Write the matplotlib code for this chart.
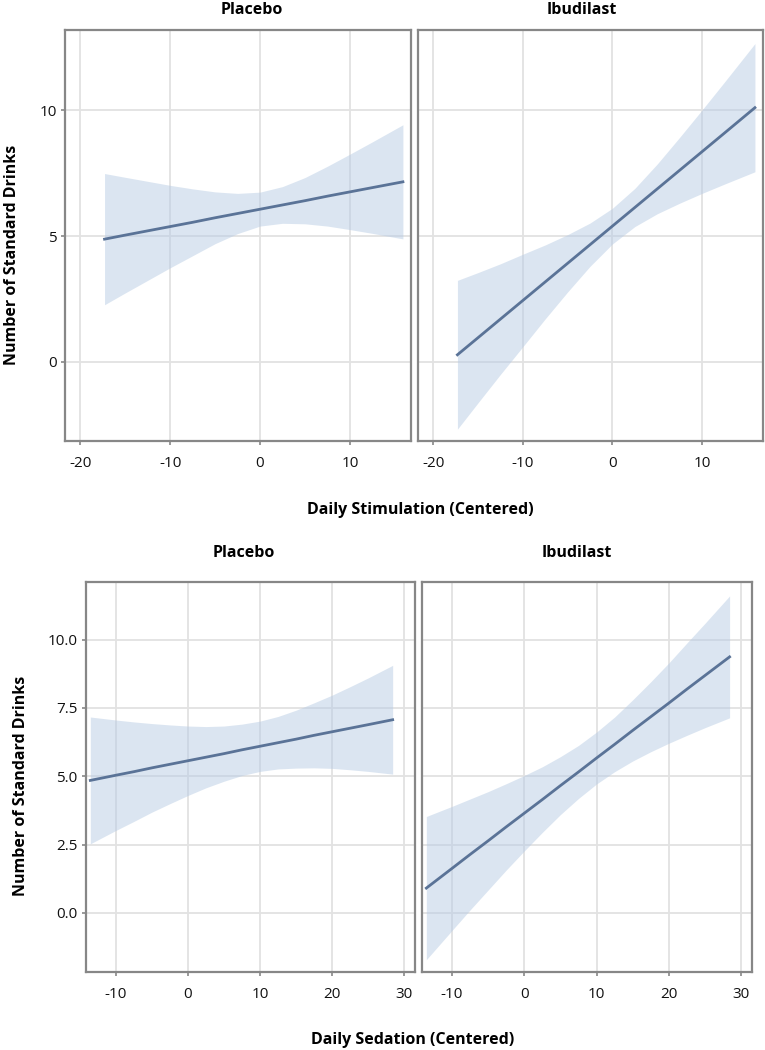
import numpy as np
import matplotlib.pyplot as plt

plt.rcParams['font.family'] = ['Open Sans', 'DejaVu Sans']

groups = ["Placebo", "Ibudilast"]

# stimulation panels (top)
stim_x = [-17.3, -15, -12.5, -10, -7.5, -5, -2.5, 0, 2.5, 5, 7.5, 10, 12.5, 15.9]
stim_fit = {
    "Placebo": [4.88, 5.04, 5.21, 5.38, 5.55, 5.73, 5.90, 6.07, 6.24, 6.41, 6.59, 6.76, 6.93, 7.16],
    "Ibudilast": [0.28, 0.96, 1.70, 2.44, 3.18, 3.92, 4.66, 5.40, 6.14, 6.88, 7.62, 8.36, 9.10, 10.11],
}
stim_hi = {
    "Placebo": [7.49, 7.34, 7.18, 7.02, 6.88, 6.76, 6.70, 6.75, 6.97, 7.33, 7.78, 8.26, 8.75, 9.43],
    "Ibudilast": [3.24, 3.55, 3.90, 4.28, 4.65, 5.06, 5.52, 6.11, 6.90, 7.87, 8.93, 10.02, 11.13, 12.66],
}
stim_lo = {
    "Placebo": [2.27, 2.74, 3.24, 3.74, 4.22, 4.70, 5.10, 5.40, 5.51, 5.49, 5.40, 5.26, 5.11, 4.89],
    "Ibudilast": [-2.68, -1.63, -0.50, 0.60, 1.71, 2.78, 3.80, 4.69, 5.38, 5.89, 6.31, 6.70, 7.07, 7.56],
}

# sedation panels (bottom)
sed_x = [-13.55, -10, -7.5, -5, -2.5, 0, 2.5, 5, 7.5, 10, 12.5, 15, 17.5, 20, 22.5, 25, 28.4]
sed_fit = {
    "Placebo": [4.85, 5.04, 5.17, 5.31, 5.44, 5.57, 5.70, 5.83, 5.97, 6.10, 6.23, 6.36,
                6.50, 6.63, 6.76, 6.89, 7.07],
    "Ibudilast": [0.91, 1.63, 2.14, 2.64, 3.15, 3.65, 4.15, 4.66, 5.16, 5.67, 6.17, 6.68,
                  7.18, 7.68, 8.19, 8.69, 9.37],
}
sed_hi = {
    "Placebo": [7.17, 7.06, 6.99, 6.93, 6.88, 6.84, 6.82, 6.84, 6.91, 7.02, 7.19, 7.42,
                7.69, 7.97, 8.28, 8.60, 9.06],
    "Ibudilast": [3.53, 3.90, 4.17, 4.44, 4.73, 5.03, 5.35, 5.72, 6.13, 6.62, 7.17, 7.80,
                  8.46, 9.15, 9.88, 10.60, 11.60],
}
sed_lo = {
    "Placebo": [2.53, 3.02, 3.35, 3.69, 4.00, 4.30, 4.58, 4.82, 5.03, 5.18, 5.27, 5.30,
                5.31, 5.29, 5.24, 5.18, 5.08],
    "Ibudilast": [-1.71, -0.64, 0.11, 0.84, 1.57, 2.27, 2.95, 3.60, 4.19, 4.72, 5.17, 5.56,
                  5.90, 6.21, 6.50, 6.78, 7.14],
}

stim_xticks = [-20, -10, 0, 10]
stim_yticks = [0, 5, 10]
stim_yticklabels = ["0", "5", "10"]
sed_xticks = [-10, 0, 10, 20, 30]
sed_yticks = [0, 2.5, 5, 7.5, 10]
sed_yticklabels = ["0.0", "2.5", "5.0", "7.5", "10.0"]

line_col = '#5a7397'
band_col = '#b8cce4'
frame_col = '#878787'
grid_col = '#e2e2e2'

W, H = 765, 1050
fig = plt.figure(figsize=(W / 100, H / 100), dpi=100)


def px_axes(l, t, r, b):
    return fig.add_axes([l / W, 1 - b / H, (r - l) / W, (b - t) / H])


def draw(ax, x, fit, hi, lo, xlim, ylim, xticks, yticks, ylabels, show_y):
    ax.fill_between(x, lo, hi, color=band_col, alpha=0.5, lw=0, zorder=2)
    ax.plot(x, fit, color=line_col, lw=2, zorder=3)
    ax.set_xlim(xlim)
    ax.set_ylim(ylim)
    ax.set_xticks(xticks)
    ax.set_xticklabels([str(v) for v in xticks])
    ax.set_yticks(yticks)
    ax.grid(True, color=grid_col, lw=1.3)
    ax.set_axisbelow(True)
    for s in ax.spines.values():
        s.set_color(frame_col)
        s.set_linewidth(1.6)
    ax.tick_params(axis='x', length=3, width=1.2, color=frame_col, labelsize=11,
                   pad=8, labelcolor='#111111')
    if show_y:
        ax.set_yticklabels(ylabels)
        ax.tick_params(axis='y', length=3, width=1.2, color=frame_col, labelsize=11,
                       pad=3, labelcolor='#111111')
    else:
        ax.tick_params(axis='y', length=0, labelleft=False)


top_boxes = [(65, 30, 411, 441), (418, 30, 763, 441)]
for i, g in enumerate(groups):
    ax = px_axes(*top_boxes[i])
    draw(ax, stim_x, stim_fit[g], stim_hi[g], stim_lo[g], (-21.7, 16.8), (-3.15, 13.2),
         stim_xticks, stim_yticks, stim_yticklabels, i == 0)

bot_boxes = [(86, 582, 415, 972), (422, 582, 752, 972)]
for i, g in enumerate(groups):
    ax = px_axes(*bot_boxes[i])
    draw(ax, sed_x, sed_fit[g], sed_hi[g], sed_lo[g], (-14.15, 31.5), (-2.16, 12.11),
         sed_xticks, sed_yticks, sed_yticklabels, i == 0)

tkw = dict(fontsize=11.5, fontweight='bold', ha='center', va='center')
fig.text(252 / W, 1 - 10 / H, "Placebo", **tkw)
fig.text(582 / W, 1 - 10 / H, "Ibudilast", **tkw)
fig.text(244 / W, 1 - 553 / H, "Placebo", **tkw)
fig.text(577 / W, 1 - 553 / H, "Ibudilast", **tkw)
fig.text(420 / W, 1 - 510 / H, "Daily Stimulation (Centered)", **tkw)
fig.text(413 / W, 1 - 1040 / H, "Daily Sedation (Centered)", **tkw)
fig.text(12 / W, 1 - 255 / H, "Number of Standard Drinks", rotation=90, **tkw)
fig.text(21 / W, 1 - 786 / H, "Number of Standard Drinks", rotation=90, **tkw)

fig.savefig("out.png", dpi=100)
